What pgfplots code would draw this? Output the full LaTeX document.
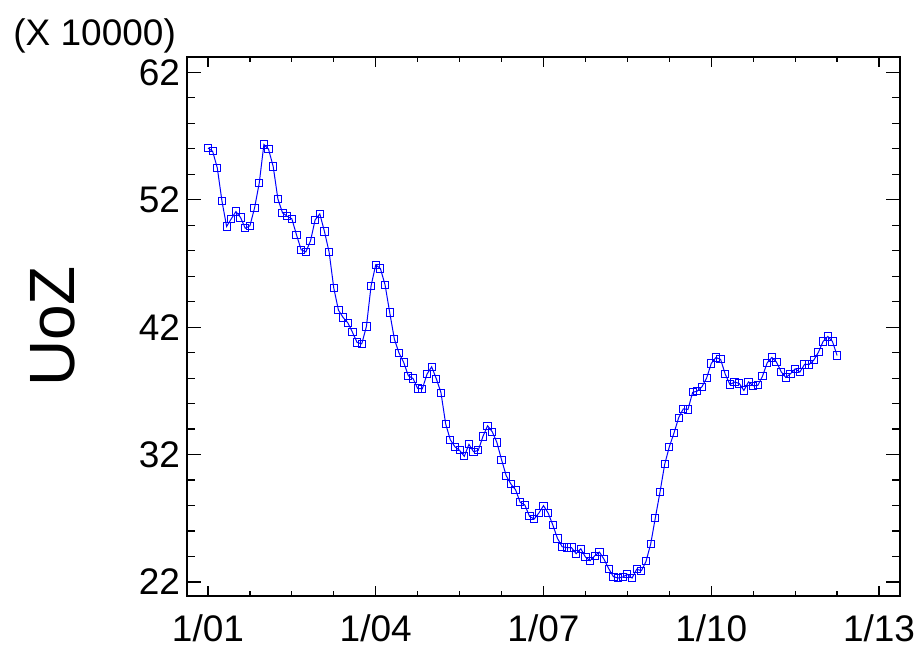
\documentclass[border=0pt]{standalone}
\usepackage{fontspec}
\setmainfont{Liberation Sans}
\usepackage{pgfplots}
\pgfplotsset{compat=1.18}
\usepackage{pgfplotstable}

% monthly series, month 0 = 1/01
\pgfplotstableread{
m v
0 56.06
1 55.80
2 54.50
3 51.90
4 49.90
5 50.50
6 51.07
7 50.60
8 49.76
9 49.95
10 51.36
11 53.30
12 56.33
13 55.96
14 54.60
15 52.07
16 50.97
17 50.70
18 50.50
19 49.24
20 48.07
21 47.90
22 48.77
23 50.42
24 50.89
25 49.50
26 47.88
27 45.06
28 43.33
29 42.76
30 42.34
31 41.60
32 40.80
33 40.69
34 42.05
35 45.24
36 46.89
37 46.60
38 45.32
39 43.15
40 41.06
41 39.96
42 39.23
43 38.18
44 37.97
45 37.19
46 37.16
47 38.31
48 38.89
49 37.95
50 36.85
51 34.42
52 33.16
53 32.61
54 32.33
55 31.86
56 32.80
57 32.22
58 32.33
59 33.42
60 34.26
61 33.79
62 32.95
63 31.59
64 30.34
65 29.69
66 29.24
67 28.25
68 28.04
69 27.15
70 26.94
71 27.41
72 27.99
73 27.41
74 26.47
75 25.42
76 24.77
77 24.70
78 24.70
79 24.22
80 24.61
81 23.96
82 23.67
83 24.06
84 24.35
85 23.78
86 23.04
87 22.42
88 22.31
89 22.39
90 22.60
91 22.31
92 23.00
93 22.89
94 23.62
95 24.98
96 27.04
97 29.06
98 31.23
99 32.61
100 33.69
101 34.89
102 35.59
103 35.54
104 36.88
105 36.98
106 37.32
107 38.00
108 39.15
109 39.62
110 39.47
111 38.31
112 37.50
113 37.69
114 37.58
115 37.03
116 37.71
117 37.40
118 37.43
119 38.16
120 39.20
121 39.62
122 39.25
123 38.50
124 38.05
125 38.34
126 38.73
127 38.47
128 39.07
129 39.07
130 39.41
131 40.04
132 40.88
133 41.27
134 40.88
135 39.78
}\uoz

\begin{document}
\begin{tikzpicture}
\path[use as bounding box] (-93.5pt,-29.5pt) rectangle (367pt,298pt);
\begin{axis}[
  at={(0,0)}, anchor=south west,
  scale only axis,
  width=356.5pt, height=269.5pt,
  xmin=-4.5, xmax=148.5,
  ymin=20.9, ymax=63.2,
  xtick={0,36,72,108,144},
  xticklabels={1/01,1/04,1/07,1/10,1/13},
  minor x tick num=3,
  ytick={22,32,42,52,62},
  minor y tick num=4,
  /pgf/number format/assume math mode=true,
  tick align=inside,
  axis line style={line width=0.6pt},
  every tick/.style={black, line width=0.6pt},
  major tick length=7pt,
  minor tick length=4pt,
  xtick style={/pgfplots/major tick length=5pt,/pgfplots/minor tick length=2.5pt},
  tick label style={font=\fontsize{18.5}{22}\selectfont},
  xticklabel style={yshift=-6pt},
  ylabel={UoZ},
  ylabel style={font=\fontsize{32}{36}\selectfont, at={(axis description cs:-0.188,0.5)}, anchor=center, rotate=0},
  clip=false,
]
\addplot[blue, line width=0.5pt, mark=square, mark size=1.8pt,
         mark options={blue, line width=0.5pt}] table[x=m, y=v] {\uoz};
\node[anchor=base west, inner sep=0pt, font=\fontsize{18.5}{22}\selectfont]
  at (axis description cs:-0.244,1.022) {(X 10000)};
\end{axis}
\end{tikzpicture}
\end{document}
